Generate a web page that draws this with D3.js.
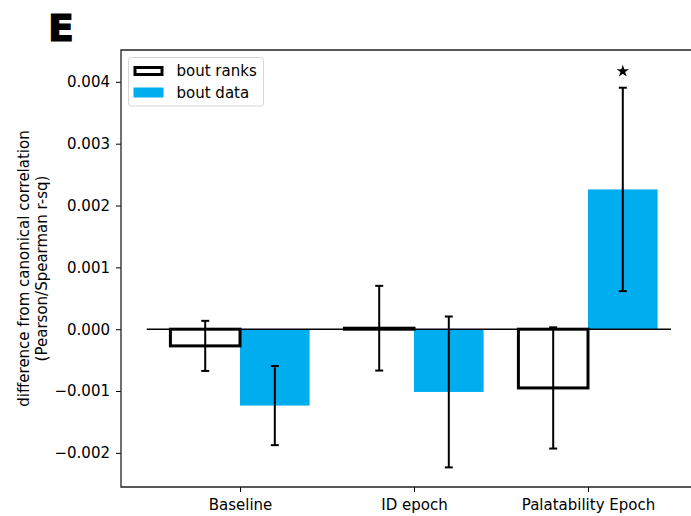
<!DOCTYPE html>
<html>
<head>
<meta charset="utf-8">
<script src="https://cdn.jsdelivr.net/npm/d3@7"></script>
<style>
  html, body { margin: 0; padding: 0; background: #fff; }
  svg { display: block; font-family: "DejaVu Sans", sans-serif; }
</style>
</head>
<body>
<svg id="chart" width="691" height="516"></svg>
<script>
// Epoch categories
const categories = ["Baseline", "ID epoch", "Palatability Epoch"];
// Mean difference from canonical correlation, per epoch
const rankValues = [-0.00027, 0.000016, -0.00095];
const dataValues = [-0.001235, -0.001015, 0.00226];
// Error bar half-widths
const rankErrors = [0.000405, 0.000685, 0.00098];
const dataErrors = [0.00064, 0.00122, 0.001645];
// Significance markers (index of category)
const starCategories = [2];
const yTicks = [-0.002, -0.001, 0, 0.001, 0.002, 0.003, 0.004];

const svg = d3.select("#chart");
const plotLeft = 121, plotTop = 50, plotBottom = 487, plotRight = 691;
const fontSize = 15;

const x = d3.scaleLinear().domain([-0.684, 2.592]).range([plotLeft, plotRight]);
const y = d3.scaleLinear().domain([-0.002552, 0.004515]).range([plotBottom, plotTop]);
const barW = 0.4;
const blue = "#00aeef";

// Panel letter
svg.append("text").attr("x", 48).attr("y", 41)
  .attr("font-size", 38).attr("font-weight", 900)
  .attr("font-family", "'DejaVu Sans', sans-serif")
  .attr("stroke", "#000").attr("stroke-width", 1.2)
  .text("E");

const g = svg.append("g");

// Bars: ranks (outlined) and data (filled)
g.selectAll("rect.data").data(dataValues).join("rect")
  .attr("class", "data")
  .attr("x", (d, i) => x(i))
  .attr("width", x(barW) - x(0))
  .attr("y", d => y(Math.max(0, d)))
  .attr("height", d => Math.abs(y(d) - y(0)))
  .attr("fill", blue);

g.selectAll("rect.rank").data(rankValues).join("rect")
  .attr("class", "rank")
  .attr("x", (d, i) => x(i - barW))
  .attr("width", x(barW) - x(0))
  .attr("y", d => y(Math.max(0, d)))
  .attr("height", d => Math.abs(y(d) - y(0)))
  .attr("fill", "none").attr("stroke", "#000").attr("stroke-width", 3);

// Zero reference line
g.append("line")
  .attr("x1", x(-0.536)).attr("x2", x(2.477))
  .attr("y1", y(0)).attr("y2", y(0))
  .attr("stroke", "#000").attr("stroke-width", 1.5);

// Error bars
function errorBars(vals, errs, offset) {
  vals.forEach((v, i) => {
    const cx = x(i + offset);
    const y1 = y(v + errs[i]), y2 = y(v - errs[i]);
    g.append("line").attr("x1", cx).attr("x2", cx).attr("y1", y1).attr("y2", y2)
      .attr("stroke", "#000").attr("stroke-width", 2);
    [y1, y2].forEach(yy => g.append("line")
      .attr("x1", cx - 4).attr("x2", cx + 4).attr("y1", yy).attr("y2", yy)
      .attr("stroke", "#000").attr("stroke-width", 2));
  });
}
errorBars(rankValues, rankErrors, -barW / 2);
errorBars(dataValues, dataErrors, barW / 2);

// Significance stars above the data bars
starCategories.forEach(i => {
  g.append("path")
    .attr("d", d3.symbol().type(d3.symbolStar).size(48)())
    .attr("transform", `translate(${x(i + barW / 2)},${y(dataValues[i] + dataErrors[i]) - 16.5})`)
    .attr("fill", "#000");
});

// Axes
const yAxis = d3.axisLeft(y).tickValues(yTicks)
  .tickFormat(d => d3.format(".3f")(d).replace("-", "\u2212"))
  .tickSizeOuter(0).tickSize(5).tickPadding(6);
const yg = svg.append("g").attr("transform", `translate(${plotLeft},0)`).call(yAxis);
yg.select(".domain").remove();
yg.selectAll("text").attr("font-size", fontSize).attr("font-family", "'DejaVu Sans', sans-serif").attr("fill", "#000");
yg.selectAll("line").attr("stroke", "#000").attr("stroke-width", 1);

const xAxis = d3.axisBottom(x).tickValues([0, 1, 2])
  .tickFormat(i => categories[i]).tickSize(5).tickPadding(7);
const xg = svg.append("g").attr("transform", `translate(0,${plotBottom})`).call(xAxis);
xg.select(".domain").remove();
xg.selectAll("text").attr("font-size", fontSize).attr("font-family", "'DejaVu Sans', sans-serif").attr("fill", "#000");
xg.selectAll("line").attr("stroke", "#000").attr("stroke-width", 1);

// Spines
svg.append("path")
  .attr("d", `M${plotRight},${plotTop}H${plotLeft}V${plotBottom}H${plotRight}`)
  .attr("fill", "none").attr("stroke", "#222").attr("stroke-width", 1.3);

// Y axis label
const yl = svg.append("text")
  .attr("transform", `translate(29,${(plotTop + plotBottom) / 2}) rotate(-90)`)
  .attr("text-anchor", "middle").attr("font-size", fontSize)
  .attr("font-family", "'DejaVu Sans', sans-serif");
yl.append("tspan").attr("x", 0).attr("dy", 0).text("difference from canonical correlation");
yl.append("tspan").attr("x", 0).attr("dy", 18).text("(Pearson/Spearman r-sq)");

// Legend
const lg = svg.append("g");
lg.append("rect").attr("x", 128.5).attr("y", 57.5).attr("width", 135).attr("height", 48.5)
  .attr("rx", 3).attr("fill", "#fff").attr("fill-opacity", 0.8)
  .attr("stroke", "#d6d6d6").attr("stroke-width", 1);
const items = [
  { label: "bout ranks", fill: "none", stroke: "#000" },
  { label: "bout data", fill: blue, stroke: "none" }
];
items.forEach((it, k) => {
  const yy = 66 + k * 21.5;
  const outlined = it.stroke !== "none";
  lg.append("rect").attr("x", outlined ? 135 : 133.5).attr("y", outlined ? yy + 1.5 : yy)
    .attr("width", outlined ? 27 : 30).attr("height", outlined ? 7 : 10)
    .attr("fill", it.fill).attr("stroke", it.stroke).attr("stroke-width", 3);
  lg.append("text").attr("x", 176.5).attr("y", yy + 10)
    .attr("font-size", fontSize).attr("font-family", "'DejaVu Sans', sans-serif")
    .text(it.label);
});
</script>
</body>
</html>
